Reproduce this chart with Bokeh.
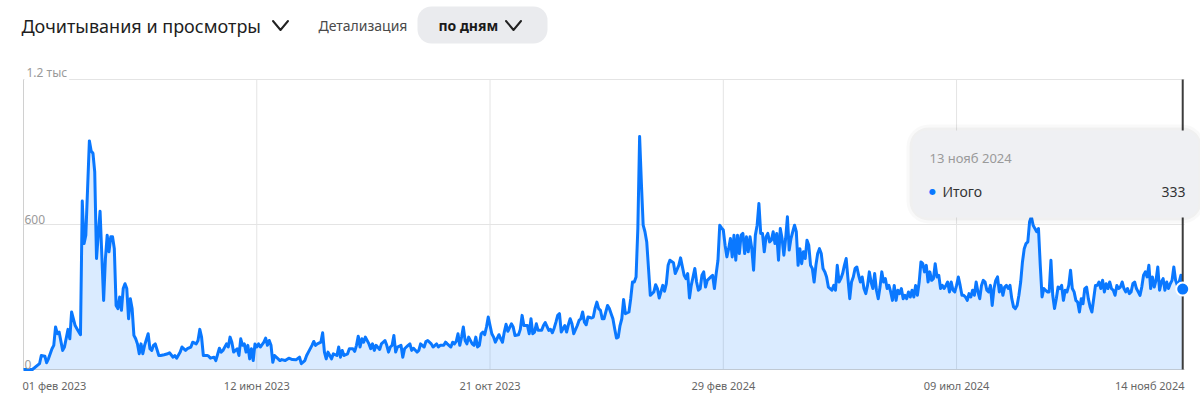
from bokeh.plotting import figure
from bokeh.models import Label, BoxAnnotation, PolyAnnotation, Range1d, ColumnDataSource
from bokeh.embed import file_html
from bokeh.resources import INLINE

# ---- data (day offset from 01 Feb 2023, daily views) ----
day = [0, 5, 9, 10, 12, 13, 14, 16, 17, 18, 19, 20, 22, 23, 25, 26, 27, 29, 30, 32,
       33, 34, 35, 37, 38, 39, 40, 41, 42, 43, 45, 46, 47, 48, 49, 50, 51, 52, 53, 54,
       55, 56, 57, 58, 59, 60, 61, 62, 63, 64, 65, 66, 67, 68, 70, 71, 72, 73, 74, 76,
       77, 79, 81, 82, 84, 85, 86, 88, 89, 91, 92, 94, 95, 97, 98, 99, 100, 101, 103, 104,
       105, 107, 108, 110, 111, 112, 114, 115, 116, 117, 118, 120, 121, 122, 123, 124, 125, 126, 127, 128,
       129, 130, 131, 132, 133, 135, 136, 137, 138, 139, 140, 141, 143, 144, 145, 147, 149, 151, 153, 155,
       156, 158, 159, 160, 162, 163, 164, 165, 167, 168, 169, 170, 171, 172, 173, 174, 176, 177, 178, 179,
       180, 182, 183, 185, 186, 187, 188, 189, 190, 191, 192, 194, 195, 196, 197, 198, 200, 201, 203, 204,
       205, 206, 207, 208, 209, 210, 212, 213, 214, 215, 216, 217, 218, 219, 221, 222, 223, 225, 226, 227,
       229, 230, 232, 233, 234, 236, 237, 238, 240, 241, 242, 243, 244, 245, 246, 247, 248, 249, 250, 252,
       253, 254, 255, 256, 257, 258, 259, 260, 261, 262, 263, 264, 265, 267, 268, 269, 270, 271, 272, 274,
       275, 276, 278, 279, 280, 281, 283, 284, 285, 286, 287, 288, 289, 291, 292, 293, 295, 296, 297, 298,
       299, 300, 301, 302, 304, 305, 306, 307, 308, 309, 311, 312, 313, 314, 315, 316, 317, 319, 320, 321,
       322, 323, 324, 325, 326, 328, 329, 330, 331, 332, 333, 334, 335, 336, 337, 338, 340, 341, 342, 343,
       344, 345, 346, 347, 348, 349, 350, 351, 352, 354, 355, 356, 357, 359, 360, 361, 362, 363, 365, 366,
       368, 369, 371, 372, 373, 374, 375, 376, 377, 378, 379, 380, 381, 382, 383, 384, 386, 387, 388, 389,
       390, 391, 392, 393, 394, 395, 396, 397, 398, 399, 400, 401, 402, 403, 404, 405, 406, 407, 408, 409,
       410, 411, 412, 413, 414, 415, 416, 417, 418, 419, 420, 421, 422, 423, 424, 425, 426, 427, 428, 429,
       430, 431, 432, 433, 434, 435, 436, 437, 438, 439, 440, 441, 442, 443, 444, 445, 446, 447, 448, 449,
       450, 451, 452, 453, 454, 455, 456, 457, 458, 459, 460, 461, 462, 463, 464, 465, 466, 467, 468, 469,
       470, 471, 472, 473, 474, 475, 476, 477, 478, 479, 480, 481, 482, 483, 484, 485, 486, 487, 488, 489,
       490, 491, 492, 493, 494, 495, 496, 497, 498, 499, 500, 501, 502, 503, 504, 505, 506, 507, 508, 509,
       510, 511, 512, 513, 514, 515, 516, 517, 518, 519, 520, 521, 522, 523, 524, 525, 526, 527, 528, 529,
       530, 531, 532, 533, 534, 535, 536, 537, 538, 539, 540, 541, 542, 543, 544, 545, 546, 547, 548, 549,
       550, 551, 552, 553, 554, 555, 556, 557, 558, 559, 560, 561, 562, 563, 564, 565, 566, 567, 568, 569,
       570, 571, 572, 573, 574, 575, 576, 577, 578, 579, 580, 581, 582, 583, 584, 585, 586, 587, 588, 589,
       590, 591, 592, 593, 594, 595, 596, 597, 598, 599, 600, 601, 602, 603, 604, 605, 606, 607, 608, 609,
       610, 611, 612, 613, 614, 615, 616, 617, 618, 619, 620, 621, 622, 623, 624, 625, 626, 627, 628, 629,
       630, 631, 632, 633, 634, 635, 636, 637, 638, 639, 640, 641, 642, 643, 644, 645, 646, 647, 648, 649,
       650, 651]
views = [0, 0, 24, 58, 55, 28, 44, 86, 100, 176, 148, 155, 79, 93, 166, 127, 238, 182, 169, 144,
         697, 521, 556, 946, 904, 895, 818, 459, 560, 655, 286, 459, 556, 487, 549, 549, 500, 265, 252, 300,
         245, 335, 355, 335, 210, 293, 252, 141, 127, 106, 65, 106, 65, 100, 148, 86, 79, 100, 106, 58,
         58, 61, 65, 69, 51, 58, 47, 72, 93, 79, 86, 93, 113, 106, 120, 166, 134, 58, 58, 55,
         47, 51, 37, 88, 72, 79, 106, 93, 134, 113, 72, 86, 58, 127, 100, 106, 72, 100, 44, 86,
         37, 106, 93, 106, 93, 113, 130, 100, 120, 100, 30, 58, 44, 37, 41, 37, 47, 41, 40, 51,
         24, 37, 58, 72, 100, 116, 100, 106, 113, 152, 72, 44, 72, 58, 44, 65, 58, 93, 51, 79,
         58, 65, 86, 86, 75, 100, 138, 93, 127, 113, 134, 106, 86, 106, 79, 100, 83, 106, 120, 100,
         72, 93, 100, 141, 72, 93, 100, 51, 86, 93, 100, 106, 79, 88, 72, 79, 106, 93, 116, 120,
         106, 93, 106, 93, 100, 100, 113, 106, 93, 113, 106, 116, 148, 100, 134, 176, 120, 106, 134, 106,
         100, 134, 93, 100, 148, 155, 144, 176, 217, 182, 148, 134, 113, 144, 127, 113, 155, 187, 158, 189,
         176, 141, 144, 166, 224, 182, 182, 148, 210, 148, 155, 189, 162, 162, 182, 194, 162, 166, 152, 171,
         196, 224, 231, 155, 182, 155, 185, 210, 189, 148, 182, 203, 210, 238, 196, 185, 217, 213, 217, 254,
         279, 252, 245, 210, 210, 265, 252, 231, 210, 169, 130, 134, 182, 210, 290, 231, 238, 293, 362, 362,
         383, 583, 964, 770, 597, 570, 528, 418, 307, 321, 351, 335, 296, 348, 324, 355, 431, 452, 442, 397,
         431, 462, 390, 376, 397, 296, 348, 383, 418, 362, 328, 335, 390, 404, 341, 369, 383, 390, 335, 397,
         452, 597, 586, 577, 514, 466, 500, 542, 466, 556, 452, 556, 480, 556, 563, 480, 549, 487, 549, 500,
         411, 556, 597, 687, 563, 563, 487, 549, 563, 528, 535, 570, 521, 563, 452, 583, 542, 473, 542, 632,
         494, 542, 570, 597, 570, 431, 500, 438, 487, 459, 535, 514, 431, 418, 362, 431, 480, 500, 480, 418,
         404, 383, 341, 335, 328, 348, 328, 431, 362, 376, 397, 431, 459, 376, 293, 362, 383, 418, 424, 390,
         362, 383, 335, 314, 348, 404, 362, 335, 397, 328, 293, 341, 404, 362, 376, 335, 348, 321, 286, 348,
         286, 328, 314, 335, 293, 307, 293, 321, 300, 328, 300, 348, 307, 362, 445, 438, 404, 431, 362, 404,
         369, 376, 438, 383, 390, 335, 348, 335, 348, 362, 321, 362, 328, 321, 348, 383, 348, 307, 307, 300,
         286, 314, 300, 328, 307, 362, 321, 293, 348, 369, 362, 328, 321, 348, 265, 335, 369, 383, 321, 348,
         307, 341, 348, 335, 348, 293, 259, 252, 265, 307, 362, 445, 500, 521, 528, 611, 632, 597, 583, 570,
         583, 431, 300, 335, 328, 321, 321, 452, 307, 252, 293, 341, 335, 348, 286, 328, 321, 348, 411, 335,
         321, 286, 279, 238, 293, 272, 335, 341, 293, 259, 238, 293, 348, 348, 362, 335, 369, 321, 355, 335,
         362, 335, 328, 307, 348, 335, 341, 362, 335, 321, 335, 314, 321, 355, 362, 335, 321, 307, 341, 390,
         404, 383, 431, 335, 383, 341, 369, 424, 328, 362, 376, 328, 362, 335, 355, 369, 424, 369, 348, 362,
         390, 333]

tick_days = [0, 131, 262, 393, 524, 652]
tick_labels = ["01 фев 2023", "12 июн 2023", "21 окт 2023", "29 фев 2024", "09 июл 2024", "14 нояб 2024"]
tick_align = ["left", "center", "center", "center", "center", "right"]
y_ticks = [0, 600, 1200]
y_tick_labels = ["0", "600", "1.2 тыс"]

title_text = "Дочитывания и просмотры"
detail_text = "Детализация"
detail_value = "по дням"
tooltip_date = "13 нояб 2024"
tooltip_series = "Итого"
tooltip_value = "333"

BLUE = "#0a78ff"
FONT = "Noto Sans"

# canvas geometry: plot area spans px 23..1184 horizontally, 79..369 vertically
W, H = 1200, 417
L, R, T, B = 23, 1184, 79, 369
x0, x1 = tick_days[0], tick_days[-1]
y0, y1 = y_ticks[0], y_ticks[-1]
kx = (R - L) / (x1 - x0)
ky = (B - T) / (y1 - y0)
xr = Range1d(x0 - L / kx, x1 + (W - R) / kx)
yr = Range1d(y0 - (H - B) / ky, y1 + T / ky)

src = ColumnDataSource(dict(day=day, views=views))

p = figure(width=W, height=H, output_backend="svg", toolbar_location=None,
           x_range=xr, y_range=yr, min_border=0)
p.min_border_left = p.min_border_right = p.min_border_top = p.min_border_bottom = 0
p.outline_line_color = None
p.axis.visible = False
p.grid.visible = False
p.background_fill_color = "white"
p.border_fill_color = "white"

# grid lines
gy = y_ticks[1:]
p.segment(x0=[x0] * len(gy), x1=[x1] * len(gy), y0=gy, y1=gy, line_color="#e4e4e4", line_width=1)
gx = tick_days[1:-1]
p.segment(x0=gx, x1=gx, y0=[y0] * len(gx), y1=[y1] * len(gx), line_color="#e4e4e4", line_width=1)
# axis lines (left + bottom)
p.segment(x0=[x0, x0], x1=[x0, x1], y0=[y0, y0], y1=[y1, y0], line_color="#d0d0d0", line_width=1)

# area + line
p.varea(x="day", y1=0, y2="views", source=src, fill_color=BLUE, fill_alpha=0.15)
p.line(x="day", y="views", source=src, line_color=BLUE, line_width=3, line_join="round")

# hover line
p.segment(x0=[day[-1]], x1=[day[-1]], y0=[y0], y1=[y1], line_color="#3c3c3c", line_width=2)

# last point marker
p.scatter(x=[day[-1]], y=[views[-1]], size=13, fill_color=BLUE, line_color="white", line_width=2)

# x tick labels
for d, t, a in zip(tick_days, tick_labels, tick_align):
    p.add_layout(Label(x=d, y=H - 385, x_units="data", y_units="screen", text=t,
                       text_align=a, text_baseline="middle", text_font=FONT,
                       text_font_size="11px", text_color="#666666",
                       x_offset=-1 if a == "left" else 0))

# y labels
for yv, t in zip(y_ticks, y_tick_labels):
    kw = dict(background_fill_color="white", padding=2) if yv == y1 else {}
    p.add_layout(Label(x=L + 1, y=yv, x_units="screen", y_units="data", text=t, text_align="left",
                       text_baseline="bottom", text_font=FONT, text_font_size="12px",
                       text_color="#9a9a9a", y_offset=-3 if yv == y1 else 1, **kw))

# header
p.add_layout(Label(x=21, y=H - 25, x_units="screen", y_units="screen", text=title_text,
                   text_align="left", text_baseline="middle", text_font=FONT,
                   text_font_size="18px", text_color="#1e1e1e"))


def chevron(cx, cy, w=7.5, h=4.5, color="#222222"):
    p.add_layout(PolyAnnotation(xs=[cx - w, cx, cx + w, cx], ys=[cy + h, cy - h, cy + h, cy - h],
                                xs_units="screen", ys_units="screen", fill_alpha=0,
                                line_color=color, line_alpha=1, line_width=2, line_join="round"))


chevron(280, H - 25)
p.add_layout(Label(x=318, y=H - 25, x_units="screen", y_units="screen", text=detail_text,
                   text_align="left", text_baseline="middle", text_font=FONT,
                   text_font_size="14px", text_color="#4a4a4a"))
p.add_layout(BoxAnnotation(left=417, right=547, bottom=H - 43, top=H - 6, left_units="screen",
                           right_units="screen", bottom_units="screen", top_units="screen",
                           fill_color="#eaebee", fill_alpha=1, line_color=None, border_radius=14))
p.add_layout(Label(x=438, y=H - 25, x_units="screen", y_units="screen", text=detail_value,
                   text_align="left", text_baseline="middle", text_font=FONT,
                   text_font_size="14px", text_font_style="bold", text_color="#1a1a1a"))
chevron(513, H - 25)

# tooltip
tl, tr, tt, tb = 912, 1198, 130, 217
for pad, a in [(6, 0.025), (3, 0.035)]:
    p.add_layout(BoxAnnotation(left=tl - pad, right=tr + pad, bottom=H - tb - pad, top=H - tt + pad,
                               left_units="screen", right_units="screen", bottom_units="screen",
                               top_units="screen", fill_color="black", fill_alpha=a, line_color=None,
                               border_radius=16 + pad))
p.add_layout(BoxAnnotation(left=tl, right=tr, bottom=H - tb, top=H - tt, left_units="screen",
                           right_units="screen", bottom_units="screen", top_units="screen",
                           fill_color="#eff0f3", fill_alpha=1, line_color=None, border_radius=14))
p.add_layout(Label(x=929, y=H - 157, x_units="screen", y_units="screen", text=tooltip_date,
                   text_align="left", text_baseline="middle", text_font=FONT,
                   text_font_size="13px", text_color="#9a9a9a"))
p.add_layout(Label(x=932, y=H - 191, x_units="screen", y_units="screen", text="●",
                   text_align="center", text_baseline="middle", text_font="DejaVu Sans",
                   text_font_size="8px", text_color=BLUE))
p.add_layout(Label(x=942, y=H - 191, x_units="screen", y_units="screen", text=tooltip_series,
                   text_align="left", text_baseline="middle", text_font=FONT,
                   text_font_size="14px", text_color="#333333"))
p.add_layout(Label(x=1185, y=H - 191, x_units="screen", y_units="screen", text=tooltip_value,
                   text_align="right", text_baseline="middle", text_font=FONT,
                   text_font_size="14px", text_color="#333333"))

assert len(day) == len(views)
open("out.html", "w").write(file_html(p, INLINE))
